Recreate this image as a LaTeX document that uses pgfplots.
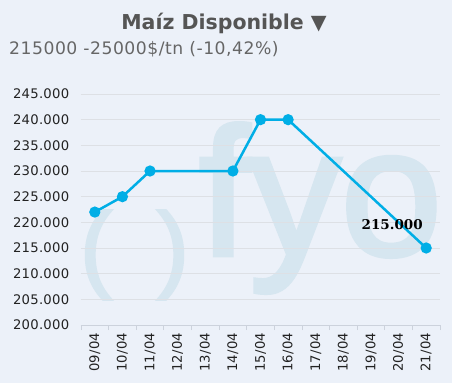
\documentclass[border=0pt]{standalone}
\usepackage{pgfplots}
\pgfplotsset{compat=1.18}
\usepackage{fontspec}
\setmainfont{DejaVu Sans}
\newfontfamily\serifb{DejaVu Serif}
\newfontfamily\wmfont[FakeBold=2.5]{Liberation Sans}
\definecolor{bgc}{RGB}{236,241,249}
\definecolor{wmc}{RGB}{214,230,240}
\definecolor{linec}{RGB}{0,174,230}
\definecolor{titlec}{RGB}{85,85,85}
\definecolor{subc}{RGB}{102,102,102}
\definecolor{tickc}{RGB}{34,34,34}
\definecolor{gridc}{RGB}{221,224,229}
\definecolor{axc}{RGB}{204,210,220}
\begin{document}
\begin{tikzpicture}
\fill[bgc] (0,0) rectangle (452pt,383pt);
\path[use as bounding box] (0,0) rectangle (452pt,383pt);
% watermark
\begin{scope}
\clip (0,0) rectangle (452pt,383pt);
\node[anchor=base west, inner sep=0pt, text=wmc, font=\wmfont\fontsize{182}{182}\selectfont] at (199pt,128pt) {fyo};
\node[anchor=center, inner sep=0pt, text=wmc, font=\wmfont\fontsize{96}{96}\selectfont] at (96pt,128pt) {(};
\node[anchor=center, inner sep=0pt, text=wmc, font=\wmfont\fontsize{96}{96}\selectfont] at (173pt,128pt) {)};
\end{scope}
% titles
\node[anchor=base, inner sep=0pt, text=titlec, font=\bfseries\fontsize{20.5}{20.5}\selectfont] at (224pt,353.7pt) {Maíz Disponible ▼};
\node[anchor=base west, inner sep=0pt, text=subc, font=\addfontfeatures{LetterSpace=3}\fontsize{17.2}{17.2}\selectfont] at (9pt,328.7pt) {215000 -25000\$/tn (-10,42\%)};
\begin{axis}[
  at={(81pt,58pt)}, anchor=south west,
  width=359pt, height=231pt, scale only axis,
  xmin=-0.5, xmax=12.5, ymin=200000, ymax=245000,
  axis x line*=bottom, axis y line*=left,
  x axis line style={draw=axc, line width=0.8pt},
  y axis line style={draw=none},
  xtick={0,...,12},
  xticklabels={09/04,10/04,11/04,12/04,13/04,14/04,15/04,16/04,17/04,18/04,19/04,20/04,21/04},
  minor xtick={-0.5,0.5,...,12.5},
  tick align=outside,
  major x tick style={draw=none},
  minor x tick style={draw=axc, line width=0.8pt},
  minor tick length=5pt,
  ytick={200000,205000,...,245000},
  ytick style={draw=none},
  ymajorgrids, grid style={draw=gridc, line width=0.7pt},
  scaled y ticks=false,
  /pgf/number format/assume math mode=true,
  /pgf/number format/fixed,
  /pgf/number format/1000 sep={.},
  ticklabel style={font=\addfontfeatures{LetterSpace=2}\fontsize{13.2}{13.2}\selectfont, text=tickc},
  yticklabel style={xshift=-4pt},
  xticklabel style={rotate=90, anchor=east},
  clip=false,
]
\addplot[color=linec, line width=2.5pt, mark=*, mark size=4.3pt, mark options={solid, fill=linec, draw=none}]
coordinates {(0,222000) (1,225000) (2,230000) (5,230000) (6,240000) (7,240000) (12,215000)};
\node[anchor=center, inner sep=0pt, font=\serifb\bfseries\fontsize{13.5}{13.5}\selectfont, text=black, xshift=-34pt, yshift=23pt] at (axis cs:12,215000) {215.000};
\end{axis}
\end{tikzpicture}
\end{document}
